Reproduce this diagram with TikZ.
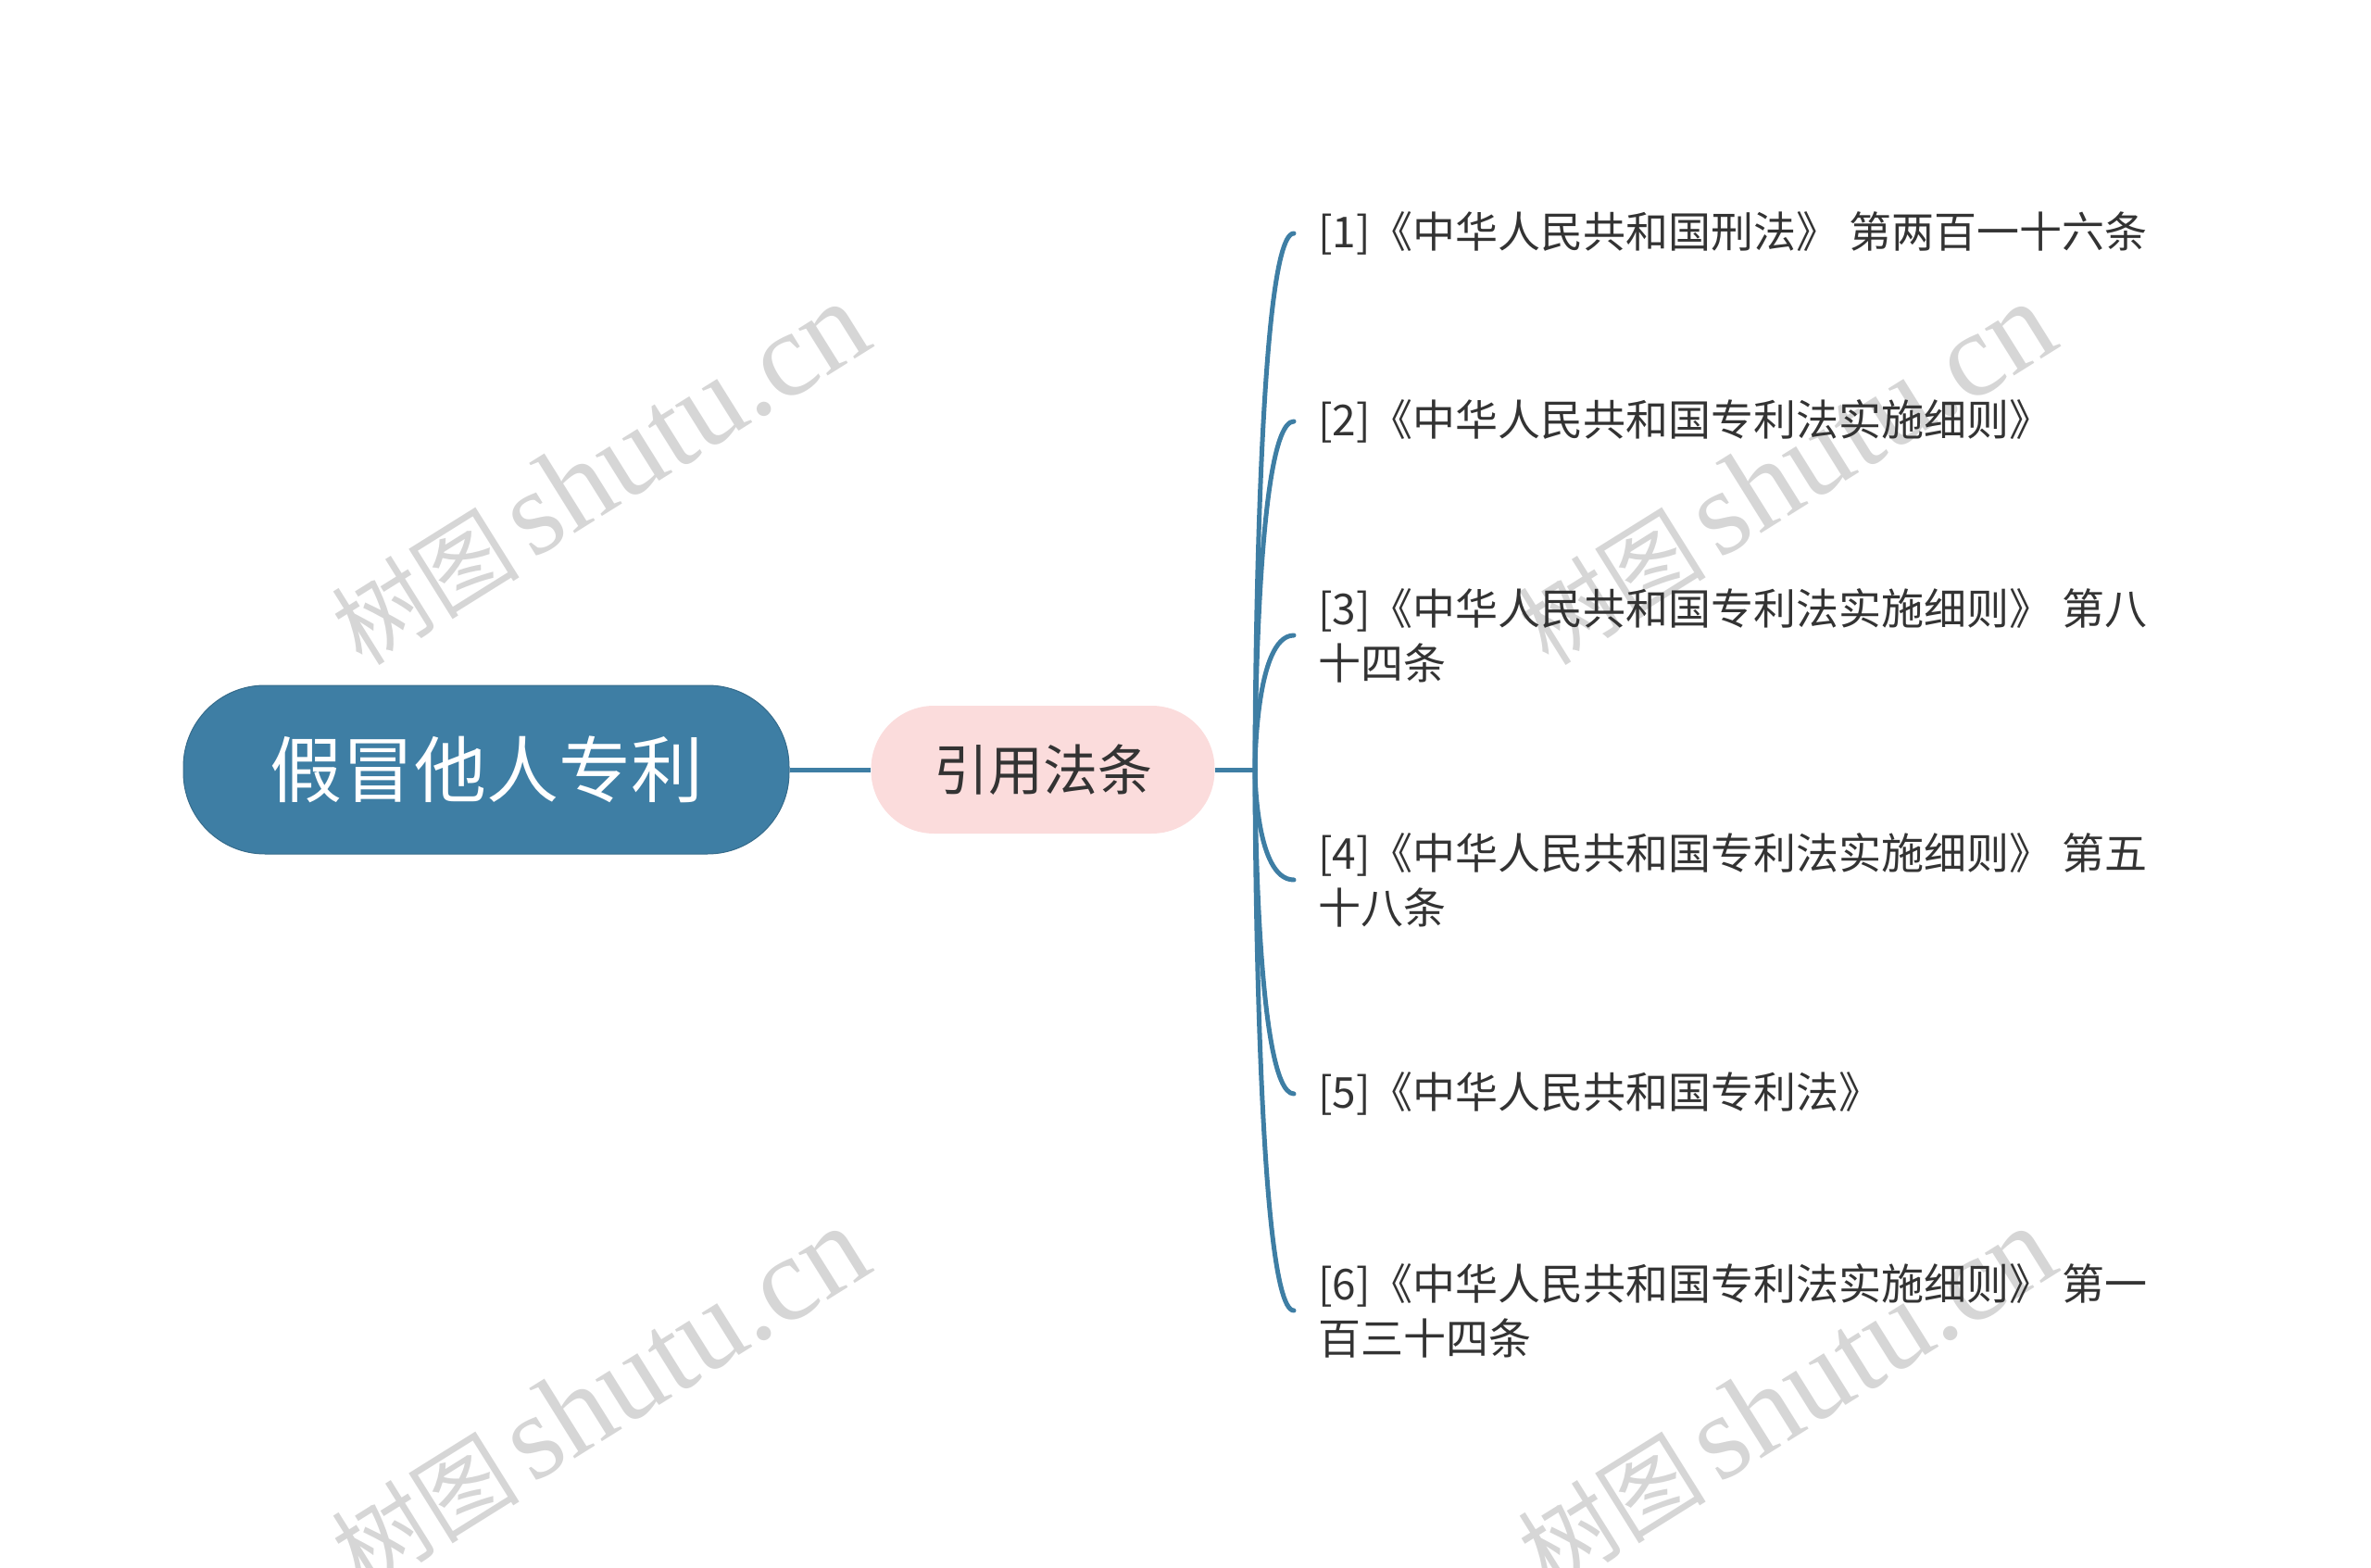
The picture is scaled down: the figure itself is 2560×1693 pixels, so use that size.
\documentclass[tikz,border=0pt]{standalone}
\usepackage{fontspec}
\setmainfont{Noto Sans CJK SC}
\newfontfamily\cjkfont{Noto Sans CJK SC}
\newfontfamily\wmlatin{Liberation Serif}
\definecolor{rootblue}{HTML}{3E7EA4}
\definecolor{midpink}{HTML}{FBDCDC}
\definecolor{txtgray}{HTML}{333333}
\definecolor{wmgray}{HTML}{D6D6D6}
\tikzset{
  rootbox/.style={fill=rootblue, draw=rootblue!85!black, line width=1pt, rounded corners=88pt,
    minimum width=654pt, minimum height=182pt, inner sep=0pt, text=white,
    font=\fontsize{78}{90}\selectfont},
  midbox/.style={fill=midpink, draw=none, rounded corners=68pt,
    minimum width=371pt, minimum height=138pt, inner sep=0pt, text=txtgray,
    font=\fontsize{59}{70}\selectfont},
  leafbox/.style={anchor=west, inner sep=0pt, align=left, text=txtgray,
    font=\fontsize{46}{58.8}\selectfont},
  conn/.style={draw=rootblue, line width=5pt},
  wm/.style={text=wmgray, rotate=32, font=\fontsize{102}{120}\selectfont, inner sep=0pt}
}
\newcommand{\wmtext}{树图\hspace{14pt}{\wmlatin\fontsize{130}{130}\selectfont shutu.cn}}
\begin{document}
\begin{tikzpicture}[x=1pt,y=-1pt]
\useasboundingbox (0,0) rectangle (2560,1693);
% watermarks
\node[wm] (w1) at (647,512) {\wmtext};
\node[wm] (w2) at (1928,512) {\wmtext};
\node[wm] (w3) at (647,1510) {\wmtext};
\node[wm] (w4) at (1928,1510) {\wmtext};
% nodes
\node[rootbox] (root) at (525,831) {假冒他人专利};
\node[midbox] (mid) at (1126,831) {引用法条};
\coordinate (sp) at (1355,831);
\node[leafbox] (l1) at (1423,252) {[1]《中华人民共和国刑法》 第两百一十六条};
\node[leafbox] (l2) at (1423,455) {[2]《中华人民共和国专利法实施细则》};
\node[leafbox] (l3) at (1423,686) {[3]《中华人民共和国专利法实施细则》 第八\\十四条};
\node[leafbox] (l4) at (1423,950) {[4]《中华人民共和国专利法实施细则》 第五\\十八条};
\node[leafbox] (l5) at (1423,1181) {[5]《中华人民共和国专利法》};
\node[leafbox] (l6) at (1423,1415) {[6]《中华人民共和国专利法实施细则》 第一\\百三十四条};
% connectors
\draw[conn] (root.east) -- (mid.west);
\draw[conn] (mid.east) -- (sp);
\foreach \n in {l1,l2,l3,l4,l5,l6}{
  \draw[conn, line cap=round] (sp) .. controls (sp) and (\n.west -| sp) .. ([xshift=-26pt]\n.west);
}
\end{tikzpicture}
\end{document}
